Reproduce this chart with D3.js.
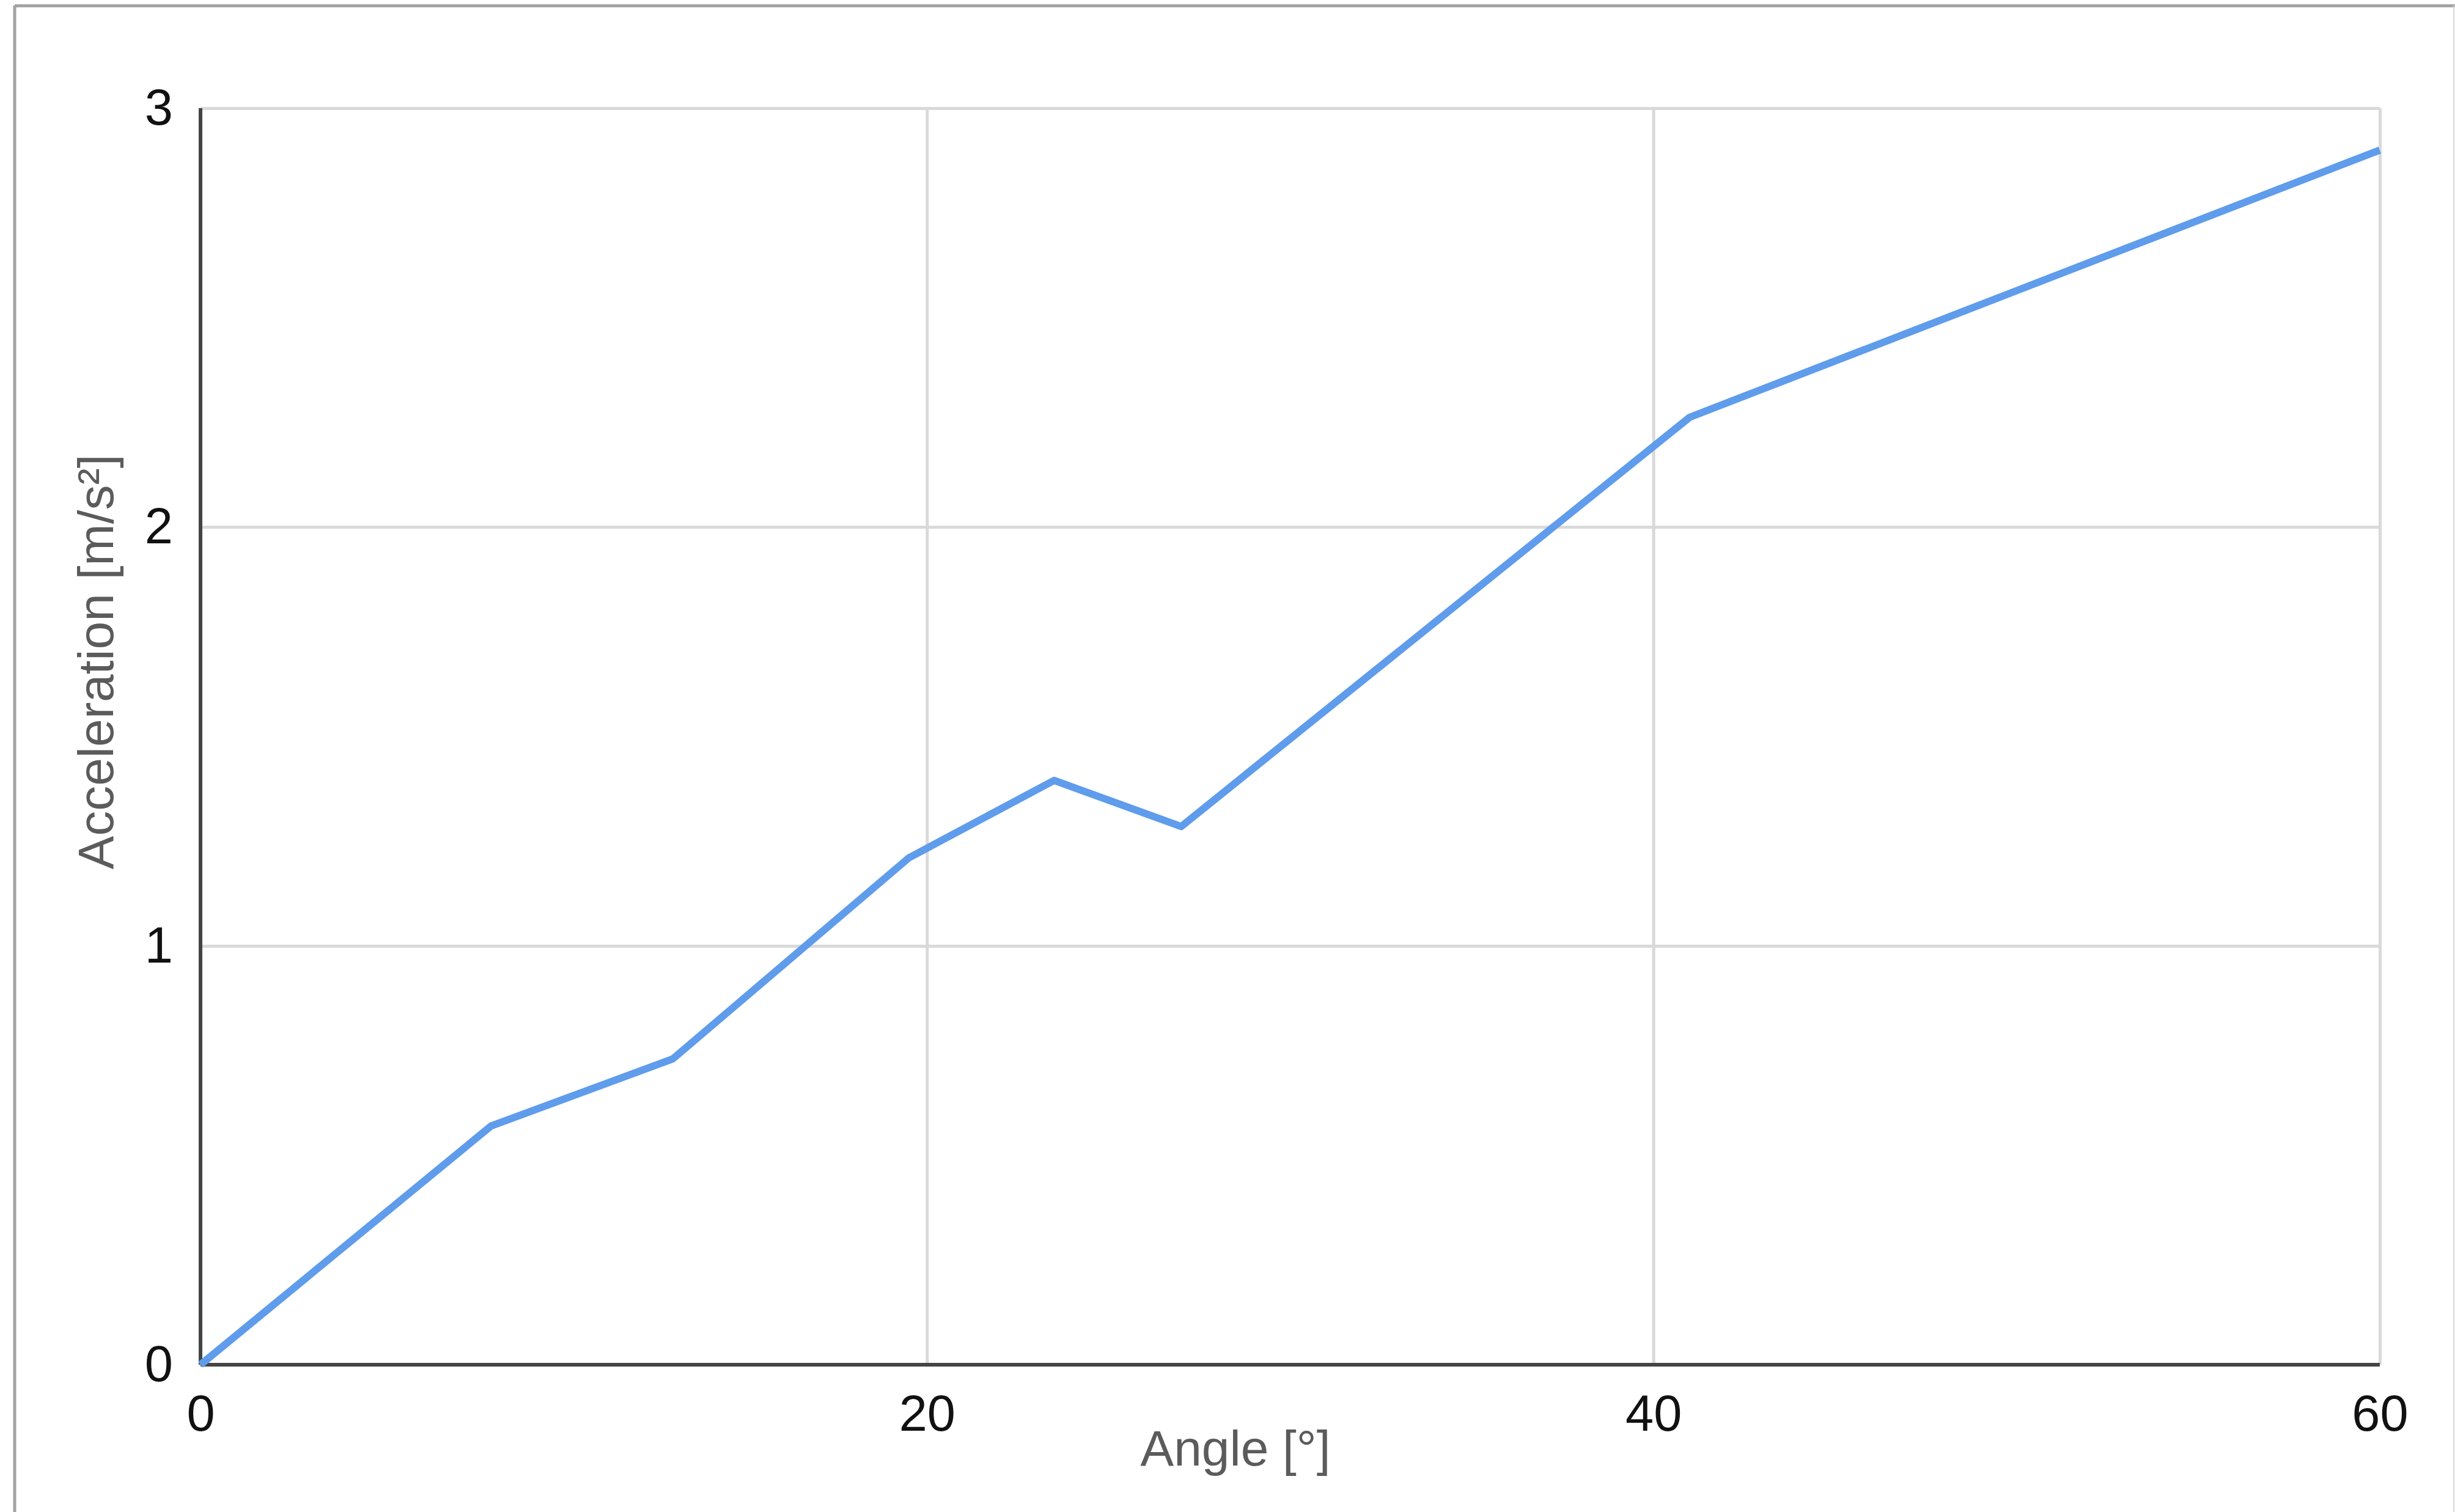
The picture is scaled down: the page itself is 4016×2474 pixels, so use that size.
<!DOCTYPE html>
<html>
<head>
<meta charset="utf-8">
<script src="https://cdn.jsdelivr.net/npm/d3@7"></script>
<style>
  body { margin: 0; background: #fff; }
  svg { display: block; font-family: "Liberation Sans", Arial, sans-serif; }
  .tick-label { font-size: 83px; fill: #111; }
  .axis-title { font-size: 82px; fill: #5b5b5b; }
</style>
</head>
<body>
<div id="chart"></div>
<script>
// angle in degrees vs measured acceleration
const angles = [0, 8, 13, 19.5, 23.5, 27, 41, 60];
const accel = [0, 0.57, 0.73, 1.21, 1.395, 1.285, 2.262, 2.9];
const xTicks = [0, 20, 40, 60];
const yTicks = [0, 1, 2, 3];

const data = angles.map((a, i) => ({ angle: a, accel: accel[i] }));

const width = 4016;
const height = 2474;
const margin = { top: 177, right: 123, bottom: 241, left: 328 };
const innerWidth = width - margin.left - margin.right;
const innerHeight = height - margin.top - margin.bottom;

const svg = d3.select("#chart")
  .append("svg")
  .attr("width", width)
  .attr("height", height);

// outer frame (top, left, right only, like the cropped screenshot)
svg.append("line")
  .attr("x1", 24).attr("x2", width).attr("y1", 9.5).attr("y2", 9.5)
  .attr("stroke", "#a3a3a3").attr("stroke-width", 5);
svg.append("line")
  .attr("x1", 24).attr("x2", 24).attr("y1", 9).attr("y2", height)
  .attr("stroke", "#a3a3a3").attr("stroke-width", 5);
svg.append("line")
  .attr("x1", 4014).attr("x2", 4014).attr("y1", 9).attr("y2", height)
  .attr("stroke", "#d6d6d6").attr("stroke-width", 2);

const g = svg.append("g")
  .attr("transform", `translate(${margin.left},${margin.top})`);

const xScale = d3.scaleLinear()
  .domain([0, 60])
  .range([0, innerWidth]);

const yScale = d3.scaleLinear()
  .domain([0, 3])
  .range([innerHeight, 0]);

// gridlines + labels
const xAxis = g.append("g")
  .attr("transform", `translate(0,${innerHeight})`)
  .call(d3.axisBottom(xScale).tickValues(xTicks).tickSize(-innerHeight).tickPadding(49).tickFormat(d3.format("d")));

const yAxis = g.append("g")
  .call(d3.axisLeft(yScale).tickValues(yTicks).tickSize(-innerWidth).tickPadding(45).tickFormat(d3.format("d")));

[xAxis, yAxis].forEach(ax => {
  ax.select(".domain").remove();
  ax.selectAll(".tick line")
    .attr("stroke", "#d9d9d9")
    .attr("stroke-width", 5);
  ax.selectAll(".tick text")
    .attr("class", "tick-label");
  ax.attr("font-family", null).attr("font-size", null);
});

// baseline axes
g.append("line")
  .attr("x1", xScale(0)).attr("x2", xScale(0))
  .attr("y1", yScale(3)).attr("y2", yScale(0))
  .attr("stroke", "#444").attr("stroke-width", 6);
g.append("line")
  .attr("x1", xScale(0)).attr("x2", xScale(60))
  .attr("y1", yScale(0)).attr("y2", yScale(0))
  .attr("stroke", "#444").attr("stroke-width", 6);

const line = d3.line()
  .x(d => xScale(d.angle))
  .y(d => yScale(d.accel));

g.append("path")
  .datum(data)
  .attr("fill", "none")
  .attr("stroke", "#5f9ceb")
  .attr("stroke-width", 12)
  .attr("stroke-linejoin", "round")
  .attr("d", line);

svg.append("text")
  .attr("class", "axis-title")
  .attr("x", 2021)
  .attr("y", 2398)
  .attr("text-anchor", "middle")
  .text("Angle [°]");

svg.append("text")
  .attr("class", "axis-title")
  .attr("transform", "rotate(-90)")
  .attr("x", -1083)
  .attr("y", 185)
  .attr("text-anchor", "middle")
  .text("Acceleration [m/s²]");
</script>
</body>
</html>
